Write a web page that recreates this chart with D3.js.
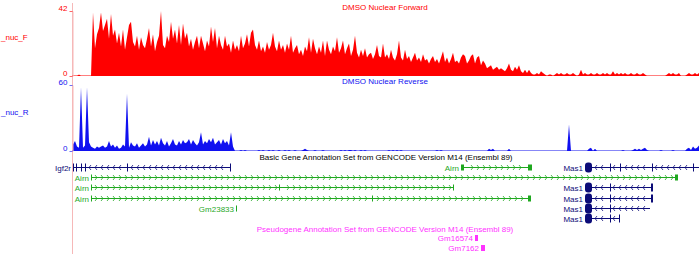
<!DOCTYPE html>
<html>
<head>
<meta charset="utf-8">
<script src="https://cdn.jsdelivr.net/npm/d3@7"></script>
<style>
  body { margin: 0; background: #fff; }
  svg { display: block; font-family: "Liberation Sans", Arial, sans-serif; }
</style>
</head>
<body>
<div id="chart"></div>
<script>
// genome window, kb from left edge of the view; signal binned every 2 kb
const viewRange = [0, 627];
const binSize = 2;

const forwardTitle = "DMSO Nuclear Forward";
const reverseTitle = "DMSO Nuclear Reverse";
const forwardTicks = [0, 42];
const reverseTicks = [0, 60];

const forwardValues = [
  0,0,0,1,0,0,0,0,0,0,
  41,18,27,31,41,29,33,37,24,40,
  26,30,21,28,19,30,17,25,33,35,
  22,19,26,17,25,20,18,24,31,19,
  27,16,22,26,42,20,18,26,22,35,
  24,30,21,33,20,34,24,28,19,24,
  17,22,26,18,26,21,16,23,19,32,
  22,31,18,26,20,17,26,19,21,15,
  23,17,20,16,26,18,21,27,19,28,
  30,20,17,23,16,19,15,22,17,20,
  28,19,16,23,17,20,15,21,17,26,
  15,18,20,14,17,13,19,16,25,15,
  24,18,14,19,15,23,13,23,17,14,
  19,16,25,15,18,23,14,18,21,13,
  17,26,15,12,17,13,18,12,14,15,
  11,14,20,13,12,21,12,14,11,17,
  12,10,14,23,12,10,17,11,13,9,
  12,15,10,12,9,14,10,11,8,11,
  13,9,11,8,12,16,9,12,8,11,
  15,9,10,8,12,14,13,8,10,13,
  14,8,12,13,7,10,8,5,6,7,
  4,5,6,4,5,4,3,5,8,4,
  3,6,4,7,3,2,4,2,4,2,
  1,1,2,1,3,2,1,0,1,1,
  0,1,2,1,2,1,1,2,1,1,
  2,1,0,1,4,1,2,1,1,2,
  1,1,2,1,1,2,1,2,1,1,
  3,1,2,1,2,1,2,1,1,2,
  1,1,2,1,1,2,1,0,0,0,
  0,0,0,0,0,0,0,1,2,1,
  2,1,1,2,0,0,0,1,2,1,
  1,2,1,2
];

const reverseValues = [
  6,9,4,3,58,3,5,58,8,4,
  3,2,4,3,4,5,3,4,9,4,
  6,3,5,2,3,6,4,52,3,8,
  5,4,7,3,5,7,4,6,13,5,
  10,6,9,5,12,7,5,9,4,7,
  11,6,5,9,6,10,7,8,11,6,
  10,7,5,8,17,6,9,7,11,8,
  12,6,8,10,6,11,7,9,5,17,
  4,0,0,0,1,0,1,0,0,0,
  0,0,0,1,0,1,0,0,1,0,
  1,0,0,1,0,0,1,0,1,0,
  0,1,0,0,0,1,2,1,0,0,
  0,1,0,0,0,1,0,0,0,0,
  0,0,0,0,1,0,1,0,1,1,
  0,1,0,0,1,0,1,0,0,0,
  0,0,0,0,0,0,0,0,1,0,
  1,0,1,0,1,0,0,0,0,0,
  0,0,0,0,0,0,0,0,0,0,
  0,0,1,0,1,0,0,0,0,0,
  0,0,0,0,0,0,0,0,0,0,
  0,0,0,0,0,0,0,0,2,1,
  2,0,0,0,0,0,0,0,2,0,
  0,0,0,0,0,0,0,0,0,0,
  0,0,0,0,0,0,0,0,0,0,
  0,0,0,0,0,0,0,0,24,0,
  0,0,0,0,0,0,0,0,2,3,
  0,2,0,0,0,0,0,0,0,0,
  0,0,0,0,0,1,0,0,0,0,
  1,2,1,2,1,2,3,1,0,0,
  0,0,0,0,1,0,0,0,0,0,
  1,0,0,0,0,0,0,2,3,1,
  4,2,3,5
];

// GENCODE basic set
const basicTitle = "Basic Gene Annotation Set from GENCODE Version M14 (Ensembl 89)";
const geneNames   = ["Igf2r", "Airn", "Mas1", "Airn", "Airn", "Mas1", "Airn", "Mas1", "Gm23833", "Mas1", "Mas1"];
const geneRows    = [0, 0, 0, 1, 2, 2, 3, 3, 4, 4, 5];
const geneStarts  = [1, 389, 513, 19, 19, 513, 19, 513, 164, 513, 513];
const geneEnds    = [159, 460, 627, 606, 382, 580, 459, 580, 165, 578, 548];
const geneStrands = ["-", "+", "-", "+", "+", "-", "+", "-", "+", "-", "-"];
const geneTypes   = ["coding", "nc", "coding", "nc", "nc", "coding", "nc", "coding", "nc", "coding", "coding"];
const geneExons = [
  [[1, 2], [4, 5], [9, 10], [13, 14], [55, 56], [158, 159]],
  [[389, 392], [456, 460]],
  [[538, 539], [548, 549], [580, 581], [621, 622]],
  [[19, 20], [603, 606]],
  [[19, 20], [207, 208], [381, 382]],
  [[538, 539], [579, 581]],
  [[19, 20], [300, 301], [456, 459]],
  [[538, 539], [579, 581]],
  [[164, 165]],
  [[538, 539]],
  [[538, 539], [547, 548]]
];
// thick coding block at the Mas1 3' end
const cdsStarts = [null, null, 513, null, null, 513, null, 513, null, 513, 513];
const cdsEnds   = [null, null, 520, null, null, 520, null, 520, null, 520, 520];

// GENCODE pseudogenes
const pseudoTitle = "Pseudogene Annotation Set from GENCODE Version M14 (Ensembl 89)";
const pseudoNames  = ["Gm16574", "Gm7162"];
const pseudoStarts = [403, 409];
const pseudoEnds   = [406, 413];

const W = 699, H = 254;
const left = 72;
const red = "#ff0000", blue = "#1010f0", navy = "#0c0c78", green = "#1fa81f", pink = "#ff33ff";

const svg = d3.select("#chart").append("svg")
  .attr("width", W)
  .attr("height", H);

const x = d3.scaleLinear().domain(viewRange).range([left, W]);

// pink guide line on the left of the data area
svg.append("line")
  .attr("x1", left + 0.5).attr("x2", left + 0.5)
  .attr("y1", 3).attr("y2", H)
  .attr("stroke", "#f6b8b8");

function drawSignal(values, yTop, yBase, ticks, color, title, label, labelY) {
  const y = d3.scaleLinear().domain([0, ticks[1]]).range([yBase, yTop]);

  svg.append("line")
    .attr("x1", left).attr("x2", W)
    .attr("y1", yBase - 0.5).attr("y2", yBase - 0.5)
    .attr("stroke", color).attr("stroke-opacity", 0.5);

  // spiky wiggle: one vertex per bin centre
  const area = d3.area()
    .x((d, i) => x(i * binSize + binSize / 2))
    .y0(yBase)
    .y1(d => y(d));

  svg.append("path")
    .datum(values)
    .attr("d", area)
    .attr("fill", color);

  const axis = svg.append("g")
    .attr("transform", `translate(${left + 0.5},0)`)
    .call(d3.axisLeft(y).tickValues(ticks).tickSize(3).tickSizeOuter(0).tickPadding(2));
  axis.select(".domain").attr("stroke", "#f6b8b8");
  axis.selectAll("line").attr("stroke", color).attr("stroke-opacity", 0.6);
  axis.selectAll("text")
    .attr("fill", color)
    .style("font-size", "8px")
    .attr("dy", "-0.05em");

  svg.append("text")
    .attr("x", 385).attr("y", yTop - 1)
    .attr("text-anchor", "middle")
    .attr("fill", color)
    .style("font-size", "8px")
    .text(title);

  svg.append("text")
    .attr("x", 1).attr("y", labelY)
    .attr("fill", color)
    .style("font-size", "8px")
    .text(label);
}

drawSignal(forwardValues, 11, 76, forwardTicks, red, forwardTitle, "_nuc_F", 40);
drawSignal(reverseValues, 85, 151, reverseTicks, blue, reverseTitle, "_nuc_R", 115);

// gene tracks
const rowY = r => 167 + r * 10.2;

svg.append("text")
  .attr("x", 386).attr("y", 160)
  .attr("text-anchor", "middle")
  .attr("fill", "#000")
  .style("font-size", "8px")
  .text(basicTitle);

const genes = svg.append("g");

geneNames.forEach((name, i) => {
  const color = geneTypes[i] === "coding" ? navy : green;
  const yc = Math.round(rowY(geneRows[i])) + 0.5;
  const x0 = x(geneStarts[i]), x1 = x(geneEnds[i]);
  const g = genes.append("g");

  g.append("line")
    .attr("x1", x0).attr("x2", x1)
    .attr("y1", yc).attr("y2", yc)
    .attr("stroke", color);

  // strand chevrons along the intron line
  const exonPx = geneExons[i].map(e => [x(e[0]), x(e[1])]);
  for (let px = x0 + 5; px < x1 - 3; px += 6) {
    if (exonPx.some(e => px > e[0] - 3 && px < e[1] + 3)) continue;
    if (cdsStarts[i] !== null && px < x(cdsEnds[i]) + 3) continue;
    const d = geneStrands[i] === "+"
      ? `M${px - 1},${yc - 2.5}L${px + 1},${yc}L${px - 1},${yc + 2.5}`
      : `M${px + 1},${yc - 2.5}L${px - 1},${yc}L${px + 1},${yc + 2.5}`;
    g.append("path").attr("d", d).attr("fill", "none").attr("stroke", color).attr("stroke-width", 0.8);
  }

  const exonH = geneTypes[i] === "coding" ? 8 : 6;
  g.selectAll("rect.exon")
    .data(geneExons[i])
    .enter().append("rect")
    .attr("x", e => x(e[0]))
    .attr("y", yc - exonH / 2)
    .attr("width", e => Math.max(1, x(e[1]) - x(e[0])))
    .attr("height", exonH)
    .attr("fill", color);

  if (cdsStarts[i] !== null) {
    g.append("rect")
      .attr("x", x(cdsStarts[i]))
      .attr("y", yc - 5)
      .attr("width", x(cdsEnds[i]) - x(cdsStarts[i]))
      .attr("height", 10)
      .attr("rx", 3)
      .attr("fill", color);
  }

  g.append("text")
    .attr("x", x0 - 2)
    .attr("y", yc + 3)
    .attr("text-anchor", "end")
    .attr("fill", color)
    .style("font-size", "8px")
    .text(name);
});

// pseudogenes
svg.append("text")
  .attr("x", 385).attr("y", 232)
  .attr("text-anchor", "middle")
  .attr("fill", pink)
  .style("font-size", "8px")
  .text(pseudoTitle);

pseudoNames.forEach((name, i) => {
  const yc = 238 + i * 10;
  svg.append("rect")
    .attr("x", x(pseudoStarts[i]))
    .attr("y", yc - 3)
    .attr("width", x(pseudoEnds[i]) - x(pseudoStarts[i]))
    .attr("height", 6)
    .attr("fill", pink);
  svg.append("text")
    .attr("x", x(pseudoStarts[i]) - 2)
    .attr("y", yc + 3)
    .attr("text-anchor", "end")
    .attr("fill", pink)
    .style("font-size", "8px")
    .text(name);
});
</script>
</body>
</html>
